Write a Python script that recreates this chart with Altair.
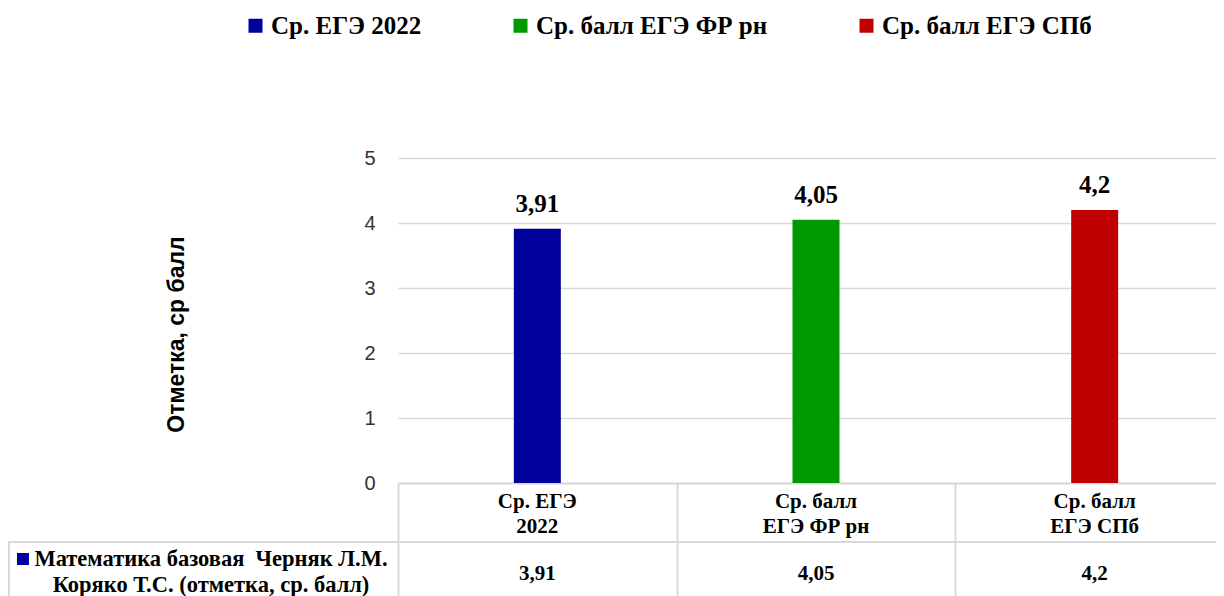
import altair as alt
import pandas as pd

categories = ["Ср. ЕГЭ 2022", "Ср. балл ЕГЭ ФР рн", "Ср. балл ЕГЭ СПб"]
values = [3.91, 4.05, 4.2]
colors = ["#00009C", "#009900", "#C00000"]
series_name = "Математика базовая\u00a0 Черняк Л.М.\nКоряко Т.С. (отметка, ср. балл)"
y_ticks = [0, 1, 2, 3, 4, 5]
y_title = "Отметка, ср балл"


def header(c):
    w = c.split(" ")
    return " ".join(w[:2]) + "\n" + " ".join(w[2:])


df = pd.DataFrame({
    "cat": categories,
    "val": values,
    "label": [f"{v:g}".replace(".", ",") for v in values],
    "header": [header(c) for c in categories],
})

W, H = 818, 325
BAND_RANGE = 836
SERIF = "Liberation Serif, DejaVu Serif, serif"
SANS = "Liberation Sans, Arial, sans-serif"
GRID = "#d9d9d9"

x = alt.X("cat:N", sort=categories,
          scale=alt.Scale(paddingInner=0, paddingOuter=0, range=[0, BAND_RANGE]),
          axis=alt.Axis(title=None, labels=False, domainColor=GRID, domainWidth=2,
                        ticks=True, tickBand="extent", tickSize=115, tickColor=GRID,
                        tickWidth=2, grid=False))
y = alt.Y("val:Q", scale=alt.Scale(domain=[0, 5], nice=False),
          axis=alt.Axis(values=y_ticks, title=y_title, titleFont=SANS, titleFontSize=23,
                        titleFontWeight="bold", titleColor="black", titleX=-222, titleY=176,
                        titleAngle=-90, titleAlign="center", titleBaseline="middle",
                        labelFont=SANS, labelFontSize=20, labelColor="#333333",
                        labelPadding=23, domain=False, ticks=False,
                        gridColor=GRID, gridWidth=1.5))
color = alt.Color("cat:N", sort=categories,
                  scale=alt.Scale(domain=categories, range=colors),
                  legend=alt.Legend(title=None, orient="none", legendX=-155, legendY=-145,
                                    direction="horizontal", columns=3, symbolType="square",
                                    symbolSize=196, symbolStrokeWidth=0, labelFont=SERIF,
                                    labelFontSize=25, labelFontWeight="bold",
                                    labelColor="black", labelOffset=3, columnPadding=86,
                                    labelLimit=0))

base = alt.Chart(df)
bars = base.mark_bar(size=47).encode(x=x, y=y, color=color)
labels = base.mark_text(dy=-17, baseline="alphabetic", font=SERIF, fontSize=25,
                        fontWeight="bold", color="black").encode(x=x, y=y, text="label:N")
headers = base.mark_text(font=SERIF, fontSize=21, fontWeight="bold", lineBreak="\n",
                         lineHeight=25, baseline="alphabetic", color="black").encode(
    x=x, y=alt.value(350), text="header:N")
data_row = base.mark_text(font=SERIF, fontSize=21, fontWeight="bold", baseline="alphabetic",
                          color="black").encode(x=x, y=alt.value(422), text="label:N")

one = alt.Chart(pd.DataFrame({"s": [series_name]}))
row_line = one.mark_rule(color=GRID, strokeWidth=2).encode(
    x=alt.value(-390), x2=alt.value(BAND_RANGE), y=alt.value(384))
left_border = one.mark_rule(color=GRID, strokeWidth=2).encode(
    x=alt.value(-389), y=alt.value(384), y2=alt.value(H + 130))
series_text = one.mark_text(align="center", baseline="alphabetic", lineBreak="\n",
                            lineHeight=26, font=SERIF, fontSize=22.5, fontWeight="bold",
                            color="black").encode(x=alt.value(-187), y=alt.value(408),
                                                  text="s:N")
square = one.mark_point(shape="square", filled=True, size=144, color=colors[0],
                        opacity=1).encode(x=alt.value(-375), y=alt.value(401))

chart = alt.layer(bars, labels, headers, data_row, row_line, left_border, series_text,
                  square).properties(
    width=W, height=H,
    padding={"left": 390, "top": 150, "right": 0, "bottom": 115},
    autosize=alt.AutoSizeParams(type="none"),
).configure_view(stroke=None)

chart.save("out.html", embed_options={"renderer": "svg", "actions": False})
